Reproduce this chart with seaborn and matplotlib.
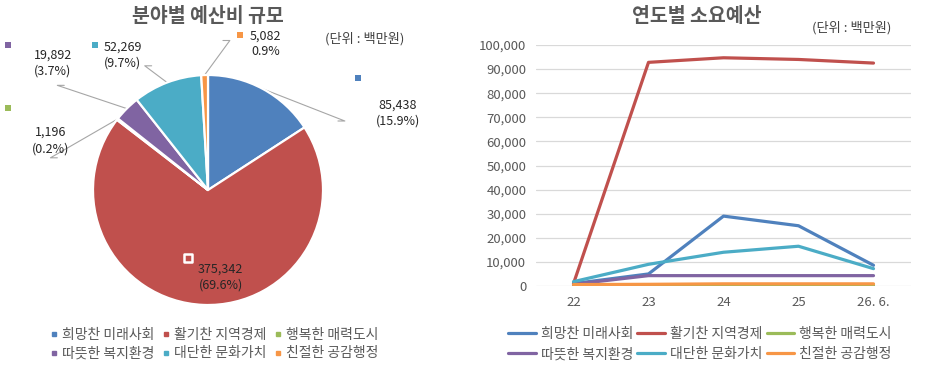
import numpy as np
import pandas as pd
import matplotlib.pyplot as plt
import seaborn as sns
from matplotlib.lines import Line2D

# field names and colours
fields = ['희망찬 미래사회', '활기찬 지역경제', '행복한 매력도시',
          '따뜻한 복지환경', '대단한 문화가치', '친절한 공감행정']
colors = ['#4F81BD', '#C0504D', '#9BBB59', '#8064A2', '#4BACC6', '#F79646']

# pie: total budget per field (unit: million won)
totals = [85438, 375342, 1196, 19892, 52269, 5082]
shares = ['(15.9%)', '(69.6%)', '(0.2%)', '(3.7%)', '(9.7%)', '0.9%']

# line chart: yearly budget per field
years = ['22', '23', '24', '25', '26. 6.']
hope = [1000, 5000, 29000, 25000, 8600]
vital = [1000, 92800, 94700, 94000, 92500]
happy = [200, 200, 300, 300, 300]
warm = [700, 4300, 4300, 4300, 4300]
culture = [1800, 9000, 14000, 16500, 7200]
kind = [600, 700, 900, 900, 900]
yearly = [hope, vital, happy, warm, culture, kind]

GRAY = '#595959'


def main():
    sns.set_style('white')
    plt.rcParams['font.family'] = ['Noto Sans CJK KR', 'DejaVu Sans']

    fig = plt.figure(figsize=(9.46, 3.72), dpi=100)

    # ---------------- pie ----------------
    ax1 = fig.add_axes([93 / 946, 67 / 372, 230 / 946, 230 / 372])
    wedges, _ = ax1.pie(totals, colors=colors, startangle=90, counterclock=False,
                        wedgeprops=dict(edgecolor='white', linewidth=1.6))
    ax1.set_xlim(-1, 1)
    ax1.set_ylim(-1, 1)
    ax1.set_aspect('equal')

    # label layout (text centre, marker, leader end) in pie units
    lab_pos = [(1.65, 0.67), (0.11, -0.76), (-1.37, 0.43),
               (-1.35, 1.10), (-0.74, 1.17), (0.50, 1.27)]
    mark_pos = [(1.30, 0.97), (-0.17, -0.59), (-1.74, 0.71),
                (-1.74, 1.26), (-0.98, 1.26), (0.28, 1.35)]
    lead_end = [(1.19, 0.60), None, (-1.37, 0.28),
                (-1.31, 0.91), (-0.55, 1.08), (0.19, 1.30)]

    for i, w in enumerate(wedges):
        txt = f'{totals[i]:,}\n{shares[i]}'
        ax1.text(*lab_pos[i], txt, ha='center', va='center', fontsize=9,
                 color='#262626', linespacing=1.3)
        if i == 1:
            ax1.scatter(*mark_pos[i], marker='s', s=30, color=colors[i],
                        edgecolor='white', linewidth=1.8, zorder=5, clip_on=False)
        else:
            ax1.scatter(*mark_pos[i], marker='s', s=14, color=colors[i],
                        linewidth=0, zorder=5, clip_on=False)
        if lead_end[i] is not None:
            mid = np.deg2rad((w.theta1 + w.theta2) / 2)
            x0, y0 = np.cos(mid) * w.r, np.sin(mid) * w.r
            ex, ey = lead_end[i]
            ax1.plot([x0, ex, ex - np.sign(ex - x0) * 0.06], [y0, ey, ey],
                     color='#A6A6A6', lw=0.8, clip_on=False, zorder=0)

    fig.text(208 / 946, 1 - 16 / 372, '분야별 예산비 규모', ha='center', va='center',
             fontsize=14, fontweight='bold', color=GRAY)
    fig.text(365 / 946, 1 - 39 / 372, '(단위 : 백만원)', ha='center', va='center',
             fontsize=9.5, color='#404040')

    pie_handles = [Line2D([], [], marker='s', ls='', color=c, markersize=3.5)
                   for c in colors]
    order = [0, 3, 1, 4, 2, 5]
    fig.legend([pie_handles[k] for k in order], [fields[k] for k in order],
               loc='center', bbox_to_anchor=(214 / 946, 1 - 344 / 372), ncol=3,
               frameon=False, fontsize=10, handlelength=0.6, handletextpad=0.3,
               columnspacing=0.5, labelspacing=0.35, labelcolor=GRAY)

    # ---------------- lines ----------------
    ax2 = fig.add_axes([536 / 946, 86 / 372, 375 / 946, 241 / 372])
    df = pd.DataFrame({'연도': years * len(fields),
                       '분야': np.repeat(fields, len(years)),
                       '예산': np.concatenate(yearly)})
    sns.lineplot(data=df, x='연도', y='예산', hue='분야', hue_order=fields,
                 palette=colors, linewidth=2.3, sort=False, ax=ax2, legend=False)
    ax2.set_xlim(-0.5, len(years) - 0.5)
    ax2.set_ylim(0, 100000)
    ax2.set_yticks(np.arange(0, 100001, 10000))
    ax2.yaxis.set_major_formatter(plt.FuncFormatter(lambda v, p: f'{int(v):,}'))
    ax2.grid(axis='y', color='#D9D9D9', lw=0.9)
    ax2.set_axisbelow(True)
    for s in ax2.spines.values():
        s.set_visible(False)
    ax2.tick_params(length=0, labelsize=9.5, labelcolor=GRAY)
    ax2.tick_params(axis='y', pad=7)
    ax2.tick_params(axis='x', pad=7)
    ax2.set_xlabel('')
    ax2.set_ylabel('')

    fig.text(697 / 946, 1 - 16 / 372, '연도별 소요예산', ha='center', va='center',
             fontsize=14, fontweight='bold', color=GRAY)
    fig.text(852 / 946, 1 - 28 / 372, '(단위 : 백만원)', ha='center', va='center',
             fontsize=9.5, color='#404040')

    line_handles = [Line2D([], [], color=c, lw=2.3) for c in colors]
    fig.legend([line_handles[k] for k in order], [fields[k] for k in order],
               loc='center', bbox_to_anchor=(700 / 946, 1 - 344 / 372), ncol=3,
               frameon=False, fontsize=10, handlelength=2.0, handletextpad=0.35,
               columnspacing=0.3, labelspacing=0.45, labelcolor=GRAY)

    fig.savefig('out.png', dpi=100)
    plt.close(fig)


if __name__ == '__main__':
    main()
